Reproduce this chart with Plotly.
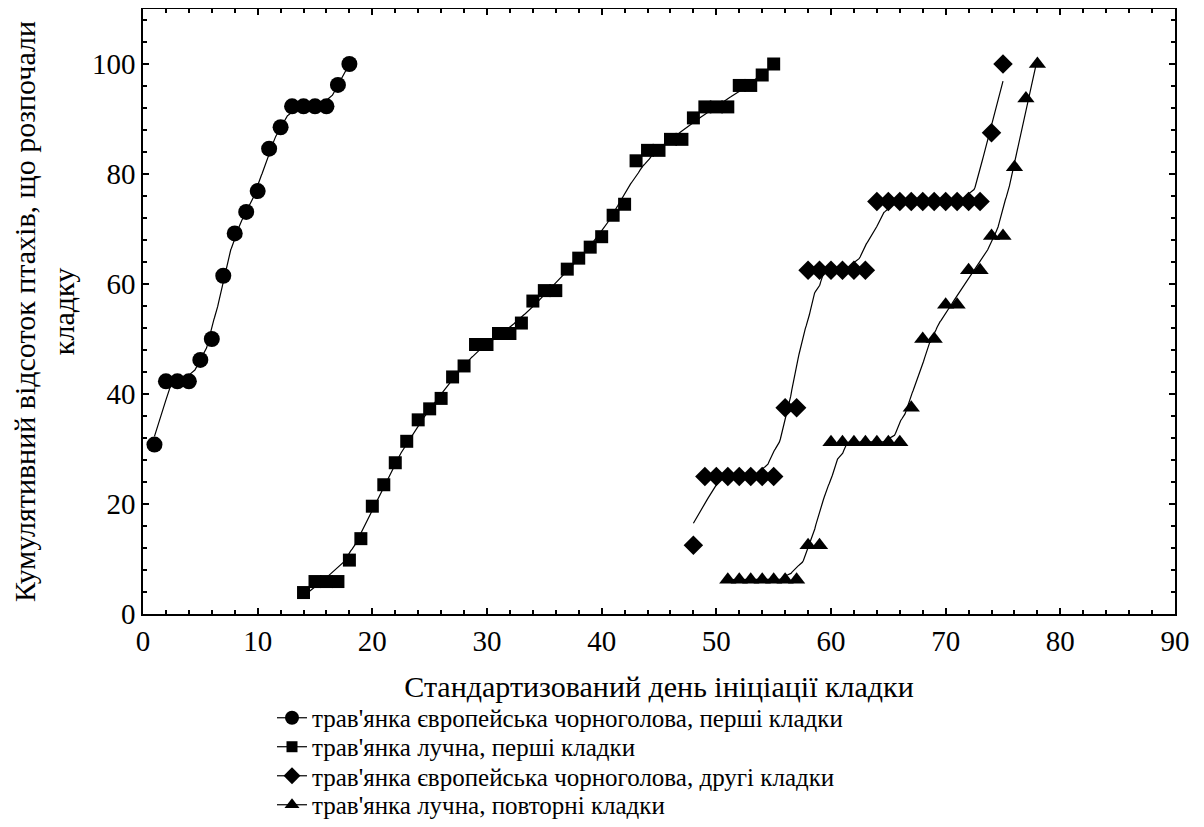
import numpy as np
import plotly.graph_objects as go

# ---- data ----
sb1_day = list(range(1, 19))
sb1_pct = [30.8, 42.3, 42.3, 42.3, 46.2, 50.0, 61.5, 69.2, 73.1, 76.9, 84.6, 88.5,
           92.3, 92.3, 92.3, 92.3, 96.2, 100.0]

wc1_day = list(range(14, 56))
wc1_pct = [3.9, 5.9, 5.9, 5.9, 9.8, 13.7, 19.6, 23.5, 27.5, 31.4, 35.3, 37.3, 39.2,
           43.1, 45.1, 49.0, 49.0, 51.0, 51.0, 52.9, 56.9, 58.8, 58.8, 62.7, 64.7,
           66.7, 68.6, 72.5, 74.5, 82.4, 84.3, 84.3, 86.3, 86.3, 90.2, 92.2, 92.2,
           92.2, 96.1, 96.1, 98.0, 100.0]

sb2_day = list(range(48, 76))
sb2_pct = [12.5, 25, 25, 25, 25, 25, 25, 25, 37.5, 37.5, 62.5, 62.5, 62.5, 62.5,
           62.5, 62.5, 75, 75, 75, 75, 75, 75, 75, 75, 75, 75, 87.5, 100]

wc2_day = list(range(51, 79))
wc2_pct = [6.25, 6.25, 6.25, 6.25, 6.25, 6.25, 6.25, 12.5, 12.5, 31.25, 31.25,
           31.25, 31.25, 31.25, 31.25, 31.25, 37.5, 50, 50, 56.25, 56.25, 62.5,
           62.5, 68.75, 68.75, 81.25, 93.75, 100]

names = ["трав'янка європейська чорноголова, перші кладки",
         "трав'янка лучна, перші кладки",
         "трав'янка європейська чорноголова, другі кладки",
         "трав'янка лучна, повторні кладки"]
symbols = ["circle", "square", "diamond", "triangle-up"]
msizes = [16, 13, 15, 15]

x_title = "Стандартизований день ініціації кладки"
y_title = "Кумулятивний відсоток птахів, що розпочали<br>кладку"


def smooth(x, y, k):
    """distance-weighted local linear fit (tricube weights, k nearest points)"""
    x = np.asarray(x, float)
    y = np.asarray(y, float)
    g = np.linspace(x.min(), x.max(), 300)
    out = []
    for v in g:
        d = np.abs(x - v)
        h = np.sort(d)[k - 1] * 1.05 + 1e-9
        w = np.clip(1 - (d / h) ** 3, 0, None) ** 3
        A = np.vstack([np.ones_like(x), x - v]).T
        W = np.diag(w)
        beta = np.linalg.lstsq(A.T @ W @ A, A.T @ W @ y, rcond=None)[0]
        out.append(beta[0])
    return g, np.array(out)


font = "Liberation Serif"
fig = go.Figure()
series = [(sb1_day, sb1_pct, 4), (wc1_day, wc1_pct, 8),
          (sb2_day, sb2_pct, 6), (wc2_day, wc2_pct, 6)]
legend_ids = ["legend", "legend2", "legend3", "legend4"]
for i, (xd, yd, k) in enumerate(series):
    gx, gy = smooth(xd, yd, k)
    fig.add_trace(go.Scatter(x=gx, y=gy, mode="lines",
                             line=dict(color="black", width=1.2),
                             showlegend=False, hoverinfo="skip"))
    fig.add_trace(go.Scatter(x=xd, y=yd, mode="markers", name=names[i],
                             marker=dict(symbol=symbols[i], size=msizes[i],
                                         color="black"),
                             showlegend=False))
    # legend entry (line + marker)
    fig.add_trace(go.Scatter(x=[None], y=[None], mode="lines+markers", name=names[i],
                             line=dict(color="black", width=1.2),
                             marker=dict(symbol=symbols[i], size=msizes[i] - 2,
                                         color="black"),
                             legend=legend_ids[i], showlegend=True))

axis_common = dict(showline=True, linecolor="black", linewidth=1.5, mirror="ticks",
                   ticks="inside", ticklen=6, tickwidth=1.5, tickcolor="black",
                   showgrid=False, zeroline=False,
                   tickfont=dict(size=29, family=font, color="black"))
fig.update_xaxes(range=[0, 90], dtick=10, minor=dict(dtick=2, ticks="inside", ticklen=4,
                                                      tickcolor="black"),
                 title=dict(text=x_title, font=dict(size=30, family=font, color="black"),
                            standoff=20), **axis_common)
fig.update_yaxes(range=[0, 110], dtick=20, minor=dict(dtick=4, ticks="inside", ticklen=4,
                                                       tickcolor="black"),
                 title=dict(text=y_title, font=dict(size=30, family=font, color="black"),
                            standoff=8), **axis_common)

leg_y = [-0.1719, -0.2198, -0.2678, -0.3157]
leg_common = dict(x=0.125, xanchor="left", yanchor="middle",
                  font=dict(size=25, family=font, color="black"),
                  bgcolor="rgba(0,0,0,0)", itemwidth=30)
fig.update_layout(
    width=1188, height=811,
    margin=dict(l=135, r=21, t=1, b=205, autoexpand=False),
    plot_bgcolor="white", paper_bgcolor="white",
    font=dict(family=font, color="black"),
    legend=dict(y=leg_y[0], **leg_common),
    legend2=dict(y=leg_y[1], **leg_common),
    legend3=dict(y=leg_y[2], **leg_common),
    legend4=dict(y=leg_y[3], **leg_common),
)

fig.write_html("out.html")
